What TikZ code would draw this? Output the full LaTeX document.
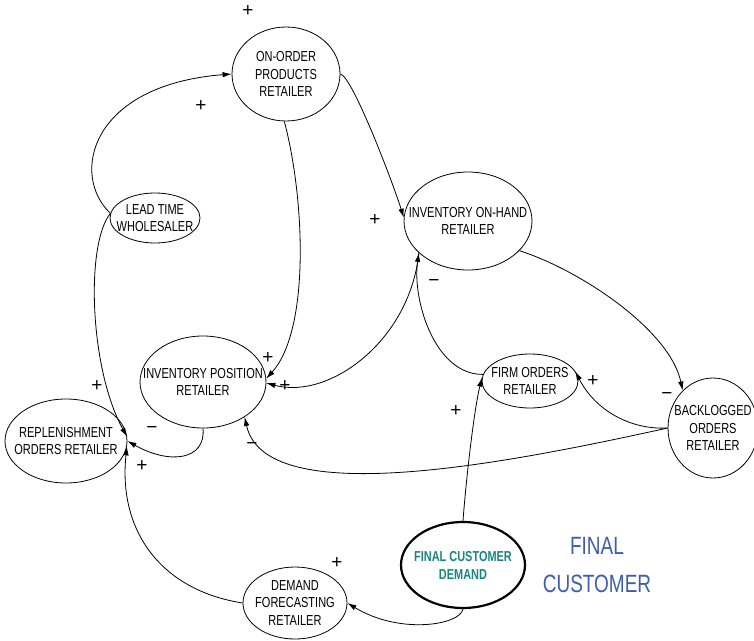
\documentclass[tikz,border=0pt]{standalone}
\usepackage{fontspec}
\setmainfont{Liberation Sans}[FakeStretch=0.76]
\newfontfamily\signfont{Liberation Sans}
\usetikzlibrary{shapes.geometric,arrows.meta}
\definecolor{custblue}{HTML}{3F5CB4}
\definecolor{demandteal}{HTML}{17877E}
\begin{document}
\begin{tikzpicture}[x=1pt,y=-1pt,
  var/.style={ellipse,draw,line width=0.8pt,inner sep=0pt},
  vtext/.style={align=center,inner sep=0pt,font=\fontsize{14.5}{17.5}\selectfont},
  ftext/.style={align=center,inner sep=0pt,text=demandteal,font=\bfseries\fontsize{14.4}{18}\selectfont},
  link/.style={line width=0.8pt,-{Latex[length=9pt,width=5.5pt]}},
  sign/.style={font=\signfont\fontsize{19}{19}\selectfont,inner sep=0pt}]
\useasboundingbox (0,0) rectangle (754,640);

% variables: ellipse outline with the caption set at its centre
\node[var,minimum width=108pt,minimum height=94pt,
  label={[vtext]center:{ON-ORDER\\PRODUCTS\\RETAILER}}] (onorder) at (286,74) {};
\node[var,minimum width=90pt,minimum height=50pt,
  label={[vtext]center:{LEAD TIME\\WHOLESALER}}] (lead) at (155,218) {};
\node[var,minimum width=128pt,minimum height=98pt,
  label={[vtext]center:{INVENTORY ON-HAND\\RETAILER}}] (onhand) at (468,221) {};
\node[var,minimum width=126pt,minimum height=92pt,
  label={[vtext]center:{INVENTORY POSITION\\RETAILER}}] (position) at (203,382) {};
\node[var,minimum width=122pt,minimum height=84pt,
  label={[vtext]center:{REPLENISHMENT\\ORDERS RETAILER}}] (replen) at (66,441) {};
\node[var,minimum width=96pt,minimum height=54pt,
  label={[vtext]center:{FIRM ORDERS\\RETAILER}}] (firm) at (530,381) {};
\node[var,minimum width=90pt,minimum height=100pt,
  label={[vtext]center:{BACKLOGGED\\ORDERS\\RETAILER}}] (backlog) at (713,428) {};
\node[var,minimum width=124pt,minimum height=86pt,line width=2.2pt,
  label={[ftext]center:{FINAL CUSTOMER\\DEMAND}}] (final) at (463,565) {};
\node[var,minimum width=104pt,minimum height=72pt,
  label={[vtext]center:{DEMAND\\FORECASTING\\RETAILER}}] (forecast) at (295,603) {};

% sector caption
\node[text=custblue,font=\fontsize{25}{38}\selectfont,align=center] (sector) at (597,565) {FINAL\\CUSTOMER};

% causal links
\draw[link] (lead.174) .. controls (70,175) and (90,85) .. (onorder.180);
\draw[link] (lead.174) .. controls (85,245) and (90,370) .. (replen.4);
\draw[link] (onorder.268) .. controls (305,200) and (310,330) .. (position.3);
\draw[link] (onorder.0) .. controls (352,76) and (392,180) .. (onhand.177);
\draw[link] (onhand.213) .. controls (410,340) and (330,400) .. (position.359);
\draw[link] (firm.172) .. controls (435,375) and (412,300) .. (onhand.213);
\draw[link] (onhand.330) .. controls (580,270) and (670,330) .. (backlog.129);
\draw[link] (backlog.180) .. controls (630,430) and (595,410) .. (firm.12);
\draw[link] (backlog.180) .. controls (500,465) and (265,510) .. (position.320);
\draw[link] (position.270) .. controls (206,460) and (170,465) .. (replen.0);
\draw[link] (final.90) .. controls (466,480) and (474,410) .. (firm.176);
\draw[link] (final.270) .. controls (460,625) and (400,635) .. (forecast.0);
\draw[link] (forecast.180) .. controls (160,590) and (118,530) .. (replen.355);

% polarities
\node[sign] (p1) at (248,11) {+};
\node[sign] (p2) at (201,106) {+};
\node[sign] (p3) at (375,220) {+};
\node[sign] (p4) at (268,358) {+};
\node[sign] (p5) at (285,386) {+};
\node[sign] (p6) at (97,386) {+};
\node[sign] (m1) at (152,430) {−};
\node[sign] (p7) at (142,466) {+};
\node[sign] (m2) at (252,446) {−};
\node[sign] (m3) at (434,283) {−};
\node[sign] (p8) at (456,411) {+};
\node[sign] (p9) at (593,381) {+};
\node[sign] (m4) at (667,396) {−};
\node[sign] (p10) at (337,563) {+};
\end{tikzpicture}
\end{document}
